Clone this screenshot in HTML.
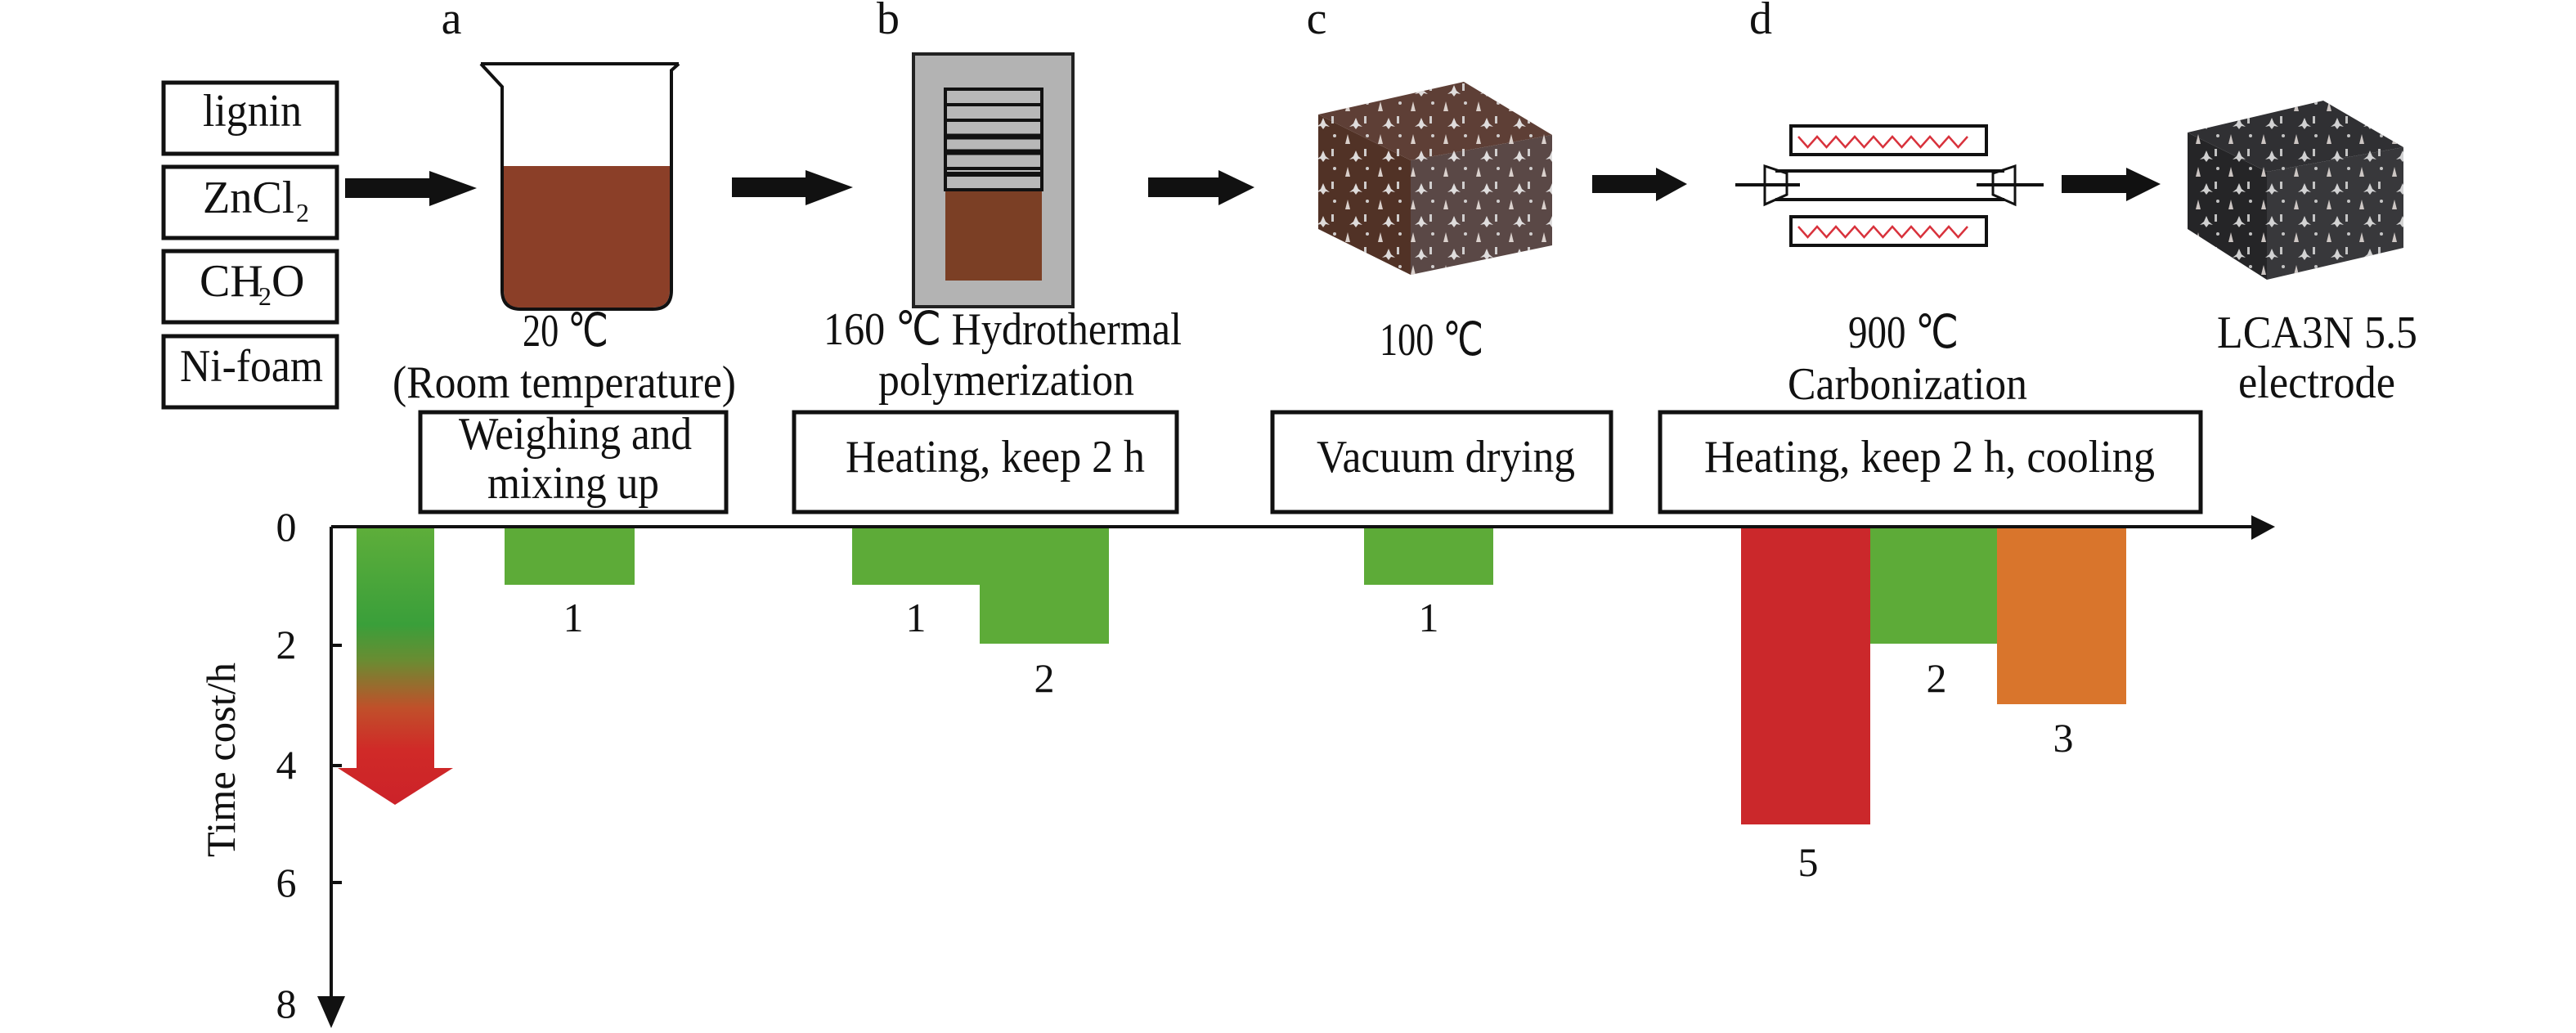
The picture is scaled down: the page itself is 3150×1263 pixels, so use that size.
<!DOCTYPE html>
<html><head><meta charset="utf-8"><style>html,body{margin:0;padding:0;background:#fff}svg{display:block}</style></head>
<body>
<svg width="3150" height="1263" viewBox="0 0 3150 1263" xmlns="http://www.w3.org/2000/svg" font-family="'Liberation Serif', serif" font-size="56" fill="#111">
<defs>
<linearGradient id="grad" x1="0" y1="645" x2="0" y2="984" gradientUnits="userSpaceOnUse">
<stop offset="0" stop-color="#5eae3a"/><stop offset="0.35" stop-color="#3a9f3a"/><stop offset="0.48" stop-color="#6a8c32"/><stop offset="0.65" stop-color="#c0502a"/><stop offset="0.8" stop-color="#d02a28"/><stop offset="1" stop-color="#cc2229"/>
</linearGradient>
<pattern id="spk" width="40" height="40" patternUnits="userSpaceOnUse">
<path d="M8 4 l3 12 l-6 0 z" fill="#e8e0dc"/><rect x="28" y="22" width="3" height="9" fill="#ddd"/><circle cx="32" cy="6" r="2" fill="#ddd"/><path d="M18 24 l3 7 l5 4 l-5 -1 l-3 4 l-3 -4 l-5 1 l5 -4 z" fill="#eee"/>
</pattern>
</defs>

<text x="552" y="41" text-anchor="middle">a</text>
<text x="1086" y="41" text-anchor="middle">b</text>
<text x="1610" y="41" text-anchor="middle">c</text>
<text x="2153" y="41" text-anchor="middle">d</text>

<g fill="none" stroke="#111" stroke-width="5">
<rect x="200" y="101" width="212" height="87"/>
<rect x="200" y="204" width="212" height="87"/>
<rect x="200" y="307" width="212" height="87"/>
<rect x="200" y="411" width="212" height="87"/>
</g>
<text x="248" y="154" textLength="121" lengthAdjust="spacingAndGlyphs">lignin</text>
<text x="248" y="260" textLength="112" lengthAdjust="spacingAndGlyphs">ZnCl</text><text x="362" y="271" font-size="32">2</text>
<text x="244" y="362">CH</text><text x="316" y="373" font-size="32">2</text><text x="332" y="362">O</text>
<text x="220" y="466" textLength="175" lengthAdjust="spacingAndGlyphs">Ni-foam</text>

<g fill="#111">
<path d="M422 218 H525 V209 L583 230 L525 252 V242 H422 Z"/>
<path d="M895 217 H985 V208 L1043 229 L985 251 V241 H895 Z"/>
<path d="M1404 217 H1490 V208 L1534 229 L1490 251 V241 H1404 Z"/>
<path d="M1947 214 H2025 V205 L2063 225 L2025 246 V236 H1947 Z"/>
<path d="M2521 214 H2600 V205 L2642 225 L2600 246 V236 H2521 Z"/>
</g>

<path d="M616 203 H819 V355 Q819 376 798 376 H636 Q616 376 616 355 Z" fill="#8b3f28"/>
<path d="M588 78 L614 106 V355 Q614 378 637 378 H798 Q821 378 821 355 V86 L830 78" fill="none" stroke="#111" stroke-width="4"/>
<line x1="588" y1="78" x2="830" y2="78" stroke="#111" stroke-width="4"/>

<rect x="1117" y="66" width="195" height="309" fill="#b3b3b3" stroke="#222" stroke-width="4"/>
<rect x="1156" y="232" width="118" height="111" fill="#7b3f25"/>
<rect x="1156" y="109" width="118" height="123" fill="#b8b8b8" stroke="#111" stroke-width="4"/>
<g stroke="#111">
<line x1="1156" y1="128" x2="1274" y2="128" stroke-width="4"/>
<line x1="1156" y1="147" x2="1274" y2="147" stroke-width="4"/>
<line x1="1156" y1="167" x2="1274" y2="167" stroke-width="7"/>
<line x1="1156" y1="186" x2="1274" y2="186" stroke-width="7"/>
<line x1="1156" y1="206" x2="1274" y2="206" stroke-width="4"/>
<line x1="1156" y1="213" x2="1274" y2="213" stroke-width="6"/>
</g>

<!-- brown cube -->
<path d="M1612 140 L1725 196 L1725 336 L1612 280 Z" fill="#513226"/>
<path d="M1725 196 L1898 165 L1898 300 L1725 336 Z" fill="#5a4846"/>
<path d="M1612 140 L1790 100 L1898 165 L1725 196 Z" fill="#5e3f36"/>
<g fill="url(#spk)" opacity="0.9">
<path d="M1612 140 L1725 196 L1725 336 L1612 280 Z"/>
<path d="M1725 196 L1898 165 L1898 300 L1725 336 Z"/>
<path d="M1612 140 L1790 100 L1898 165 L1725 196 Z"/>
</g>

<!-- furnace -->
<g fill="none" stroke="#111" stroke-width="4">
<rect x="2190" y="154" width="239" height="35"/>
<rect x="2190" y="265" width="239" height="35"/>
<line x1="2171" y1="209" x2="2451" y2="209"/>
<line x1="2171" y1="244" x2="2451" y2="244"/>
<path d="M2158 203 L2185 212 V238 L2158 250 Z" stroke-width="3"/>
<path d="M2464 203 L2437 212 V238 L2464 250 Z" stroke-width="3"/>
<line x1="2122" y1="226" x2="2201" y2="226"/>
<line x1="2417" y1="226" x2="2499" y2="226"/>
</g>
<g fill="none" stroke="#d8323c" stroke-width="2.5">
<polyline points="2199,167 2210.5,180 2222,167 2233.5,180 2245,167 2256.5,180 2268,167 2279.5,180 2291,167 2302.5,180 2314,167 2325.5,180 2337,167 2348.5,180 2360,167 2371.5,180 2383,167 2394.5,180 2406,167"/>
<polyline points="2199,277 2210.5,290 2222,277 2233.5,290 2245,277 2256.5,290 2268,277 2279.5,290 2291,277 2302.5,290 2314,277 2325.5,290 2337,277 2348.5,290 2360,277 2371.5,290 2383,277 2394.5,290 2406,277"/>
</g>

<!-- dark cube -->
<path d="M2675 162 L2772 210 L2772 342 L2675 280 Z" fill="#252527"/>
<path d="M2772 210 L2939 180 L2939 303 L2772 342 Z" fill="#38383b"/>
<path d="M2675 162 L2841 123 L2939 180 L2772 210 Z" fill="#303033"/>
<g fill="url(#spk)" opacity="0.85">
<path d="M2675 162 L2772 210 L2772 342 L2675 280 Z"/>
<path d="M2772 210 L2939 180 L2939 303 L2772 342 Z"/>
<path d="M2675 162 L2841 123 L2939 180 L2772 210 Z"/>
</g>

<text x="639" y="423" textLength="105" lengthAdjust="spacingAndGlyphs">20 ℃</text>
<text x="480" y="486" textLength="420" lengthAdjust="spacingAndGlyphs">(Room temperature)</text>
<text x="1007" y="421" textLength="438" lengthAdjust="spacingAndGlyphs">160 ℃ Hydrothermal</text>
<text x="1074" y="483" textLength="313" lengthAdjust="spacingAndGlyphs">polymerization</text>
<text x="1687" y="434" textLength="127" lengthAdjust="spacingAndGlyphs">100 ℃</text>
<text x="2260" y="425" textLength="135" lengthAdjust="spacingAndGlyphs">900 ℃</text>
<text x="2186" y="488" textLength="293" lengthAdjust="spacingAndGlyphs">Carbonization</text>
<text x="2711" y="425" textLength="245" lengthAdjust="spacingAndGlyphs">LCA3N 5.5</text>
<text x="2737" y="486" textLength="192" lengthAdjust="spacingAndGlyphs">electrode</text>

<g fill="none" stroke="#111" stroke-width="5">
<rect x="514" y="504" width="374" height="122"/>
<rect x="971" y="504" width="468" height="122"/>
<rect x="1556" y="504" width="414" height="122"/>
<rect x="2030" y="504" width="661" height="122"/>
</g>
<text x="561" y="549" textLength="285" lengthAdjust="spacingAndGlyphs">Weighing and</text>
<text x="596" y="609" textLength="210" lengthAdjust="spacingAndGlyphs">mixing up</text>
<text x="1034" y="577" textLength="366" lengthAdjust="spacingAndGlyphs">Heating, keep 2 h</text>
<text x="1610" y="577" textLength="316" lengthAdjust="spacingAndGlyphs">Vacuum drying</text>
<text x="2084" y="577" textLength="551" lengthAdjust="spacingAndGlyphs">Heating, keep 2 h, cooling</text>

<path d="M436 645 H531 V939 H554 L483 984 L413 939 H436 Z" fill="url(#grad)"/>
<rect x="617" y="646" width="159" height="69" fill="#5dab38"/>
<rect x="1042" y="646" width="156" height="69" fill="#5dab38"/>
<rect x="1198" y="646" width="158" height="141" fill="#5dab38"/>
<rect x="1668" y="646" width="158" height="69" fill="#5dab38"/>
<rect x="2129" y="646" width="158" height="362" fill="#cb282b"/>
<rect x="2287" y="646" width="155" height="141" fill="#5dab38"/>
<rect x="2442" y="646" width="158" height="215" fill="#d9752c"/>

<g stroke="#111" stroke-width="4">
<line x1="405" y1="644" x2="2756" y2="644"/>
<line x1="405" y1="644" x2="405" y2="1222"/>
<line x1="405" y1="789" x2="418" y2="789"/>
<line x1="405" y1="936" x2="418" y2="936"/>
<line x1="405" y1="1079" x2="418" y2="1079"/>
</g>
<path d="M2753 630 L2782 644 L2753 660 Z" fill="#111"/>
<path d="M388 1218 L422 1218 L405 1257 Z" fill="#111"/>

<g text-anchor="middle" font-size="50">
<text x="350" y="661">0</text>
<text x="350" y="805">2</text>
<text x="350" y="952">4</text>
<text x="350" y="1096">6</text>
<text x="350" y="1244">8</text>
<text x="701" y="772">1</text>
<text x="1120" y="772">1</text>
<text x="1277" y="846">2</text>
<text x="1747" y="772">1</text>
<text x="2211" y="1071">5</text>
<text x="2368" y="846">2</text>
<text x="2523" y="919">3</text>
</g>
<text transform="translate(287,929) rotate(-90)" text-anchor="middle" font-size="50" textLength="238" lengthAdjust="spacingAndGlyphs">Time cost/h</text>
</svg>
</body></html>
